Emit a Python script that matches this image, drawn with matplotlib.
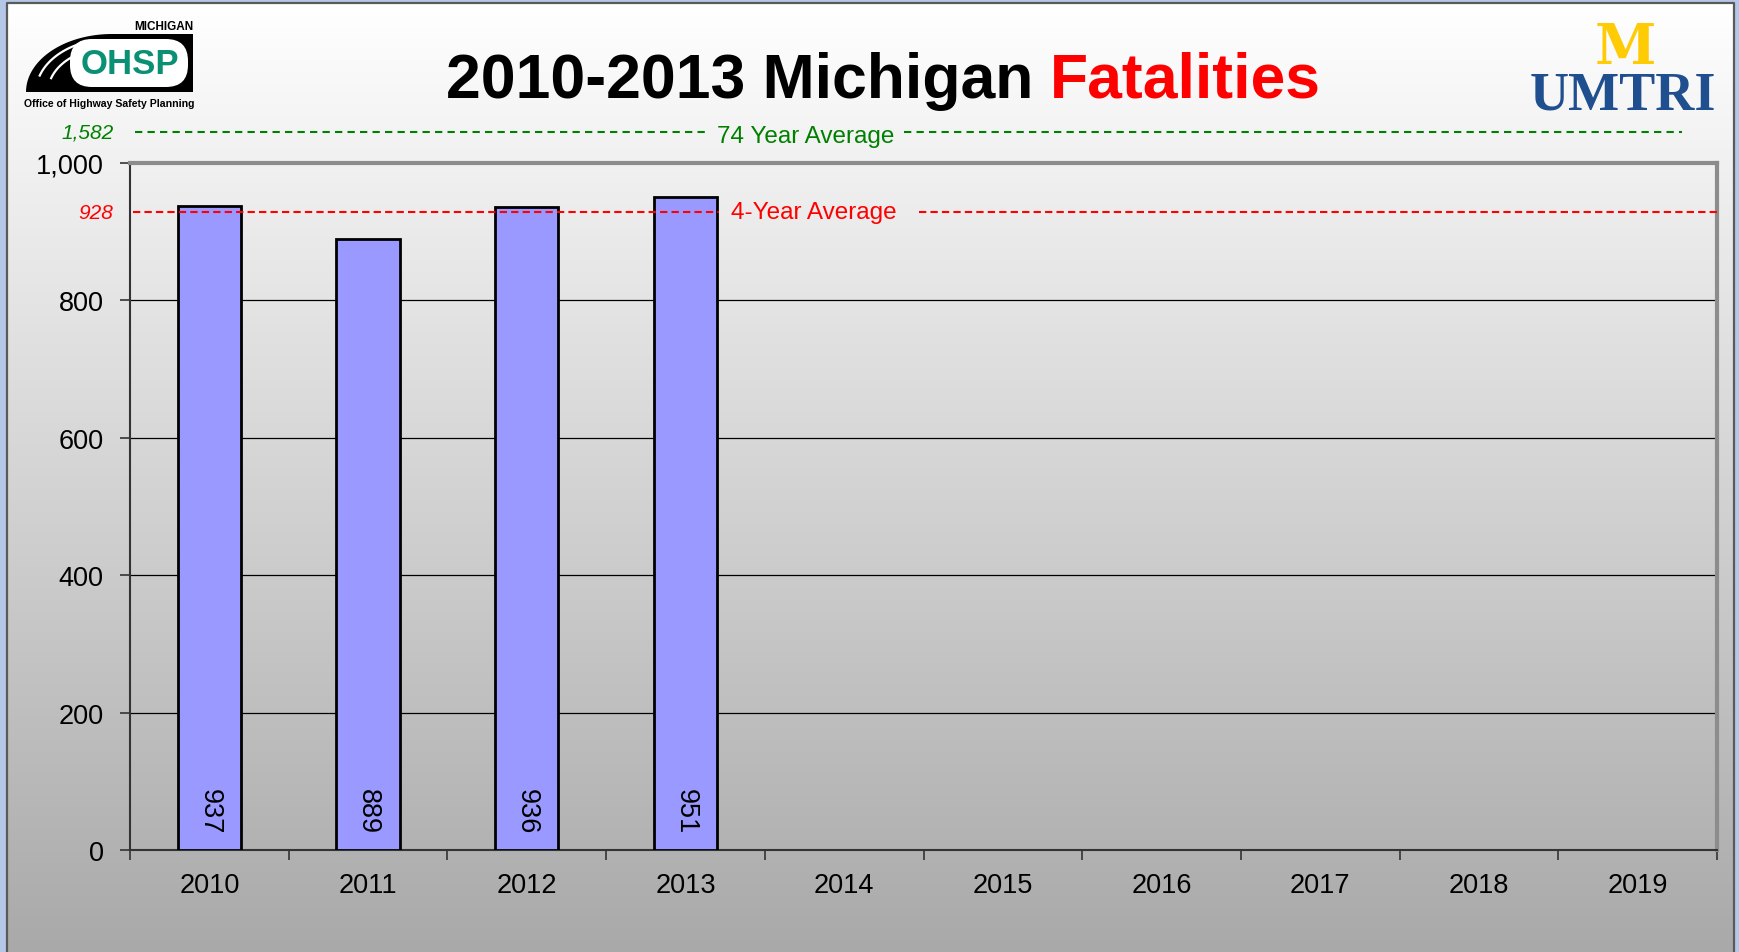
import matplotlib
matplotlib.use("Agg")
import matplotlib.pyplot as plt
import matplotlib.transforms as mtransforms
from matplotlib.colors import LinearSegmentedColormap
from matplotlib.patches import Polygon, FancyBboxPatch
import numpy as np

plt.rcParams['font.family'] = ['Liberation Sans', 'DejaVu Sans']

years = ['2010', '2011', '2012', '2013', '2014', '2015', '2016', '2017', '2018', '2019']
fatalities = [937, 889, 936, 951]
avg_4yr = 928
avg_74yr = 1582
yticks = [0, 200, 400, 600, 800, 1000]

W, H = 1739, 953
fig = plt.figure(figsize=(W / 100, H / 100), dpi=100)
fig.patch.set_facecolor('#b4c7e7')

# slide background in pixel coordinates
bg = fig.add_axes([0, 0, 1, 1], zorder=0)
shade = np.linspace(0, 1, 256).reshape(-1, 1)
cmap = LinearSegmentedColormap.from_list('slide', ['#ffffff', '#a9a9a9'])
bg.imshow(shade, cmap=cmap, extent=(7, 1734, 953, 4), aspect='auto',
          interpolation='bilinear')
bg.plot([7, 7, 1734, 1734], [953, 4, 4, 953], color='#5a5a5a', lw=1.6)
bg.set_xlim(0, W)
bg.set_ylim(H, 0)
bg.axis('off')

# chart
ax = fig.add_axes([130 / W, (H - 851) / H, 1587 / W, 687 / H], zorder=1)
ax.set_facecolor('none')
x = np.arange(len(years))
ax.bar(x[:len(fatalities)], fatalities, width=0.4, color='#9999ff',
       edgecolor='black', linewidth=2, zorder=3)
ax.set_xlim(-0.5, len(years) - 0.5)
ax.set_ylim(0, 1000)
ax.set_yticks(yticks)
ax.set_yticklabels([f'{v:,}' for v in yticks])
ax.yaxis.grid(True, color='black', linewidth=0.9)
ax.set_axisbelow(True)

ax.set_xticks(np.arange(-0.5, len(years), 1))
ax.set_xticklabels([])
ax.set_xticks(x, minor=True)
ax.set_xticklabels(years, minor=True)
ax.tick_params(axis='x', which='major', length=7, width=1.2, color='#333333')
ax.tick_params(axis='x', which='minor', length=0, pad=16, labelsize=19.5)
ax.tick_params(axis='y', length=7, width=1.2, color='#333333', pad=12, labelsize=19.5)
for side in ['left', 'bottom']:
    ax.spines[side].set_color('#333333')
    ax.spines[side].set_linewidth(1.5)
for side in ['top', 'right']:
    ax.spines[side].set_color('#8c8c8c')
    ax.spines[side].set_linewidth(3)

for xi, v in zip(x, fatalities):
    ax.annotate(str(v), (xi, 0), xytext=(0, 12), textcoords='offset points',
                rotation=-90, ha='center', va='bottom', fontsize=19.5, zorder=5)

# 4-year average
red_dash = (0, (3.5, 2))
ax.plot([-0.48, 3.21], [avg_4yr, avg_4yr], color='red', lw=1.5, ls=red_dash, zorder=4)
ax.plot([4.47, 9.5], [avg_4yr, avg_4yr], color='red', lw=1.5, ls=red_dash, zorder=4,
        clip_on=False)
ax.text(3.81, avg_4yr, '4-Year Average', color='red', fontsize=17.5,
        ha='center', va='center', zorder=4)
ytrans = mtransforms.blended_transform_factory(ax.transAxes, ax.transData)
ax.text(-0.0107, avg_4yr, f'{avg_4yr:,}', transform=ytrans, color='red',
        fontsize=15, style='italic', ha='right', va='center')

# 74-year average sits above the scale
green = '#008000'
y74 = 1.045
for x0, x1 in [(0.003, 0.365), (0.488, 0.978)]:
    ax.plot([x0, x1], [y74, y74], transform=ax.transAxes, color=green, lw=1.5,
            ls=(0, (3.5, 2.5)), clip_on=False)
ax.text(0.426, y74 - 0.006, '74 Year Average', transform=ax.transAxes, color=green,
        fontsize=17.5, ha='center', va='center')
ax.text(-0.010, y74, f'{avg_74yr:,}', transform=ax.transAxes, color=green,
        fontsize=15, style='italic', ha='right', va='center')

# title
fig.text(1033 / W, 1 - 98 / H, '2010-2013 Michigan', ha='right', va='baseline',
         fontsize=45, weight='bold', color='black')
fig.text(1050 / W, 1 - 98 / H, 'Fatalities', ha='left', va='baseline',
         fontsize=45, weight='bold', color='red')

# logos
ov = fig.add_axes([0, 0, 1, 1], zorder=3)
ov.set_xlim(0, W)
ov.set_ylim(H, 0)
ov.axis('off')

ov.text(193, 27, 'MICHIGAN', ha='right', va='center', fontsize=8.5, weight='bold')
t = np.linspace(np.pi / 2, np.pi, 40)
arc = np.column_stack([112 + 86 * np.cos(t), 93 - 58 * np.sin(t)])
road = np.vstack([arc, [[193, 93], [193, 35]]])
ov.add_patch(Polygon(road, closed=True, facecolor='black', edgecolor='none'))
ov.add_patch(FancyBboxPatch((70, 40), 118, 48, boxstyle='round,pad=0,rounding_size=22',
                            facecolor='white', edgecolor='none'))
for r in (64, 76):
    tt = np.linspace(np.pi * 0.62, np.pi * 0.9, 20)
    ov.plot(112 + r * np.cos(tt), 93 - r * 0.7 * np.sin(tt), color='white', lw=1.6)
ov.text(130, 65, 'OHSP', ha='center', va='center', fontsize=25, weight='bold',
        color='#0a9075')
ov.text(109, 104, 'Office of Highway Safety Planning', ha='center', va='center',
        fontsize=7.6, weight='bold')

ov.text(1625, 48, 'M', ha='center', va='center', fontsize=40, weight='bold',
        family='DejaVu Serif', color='#ffcb05')
ov.text(1623, 97, 'UMTRI', ha='center', va='center', fontsize=39, weight='bold',
        family='Liberation Serif', color='#1f4f8f')

fig.savefig('out.png', dpi=100, facecolor=fig.get_facecolor())
